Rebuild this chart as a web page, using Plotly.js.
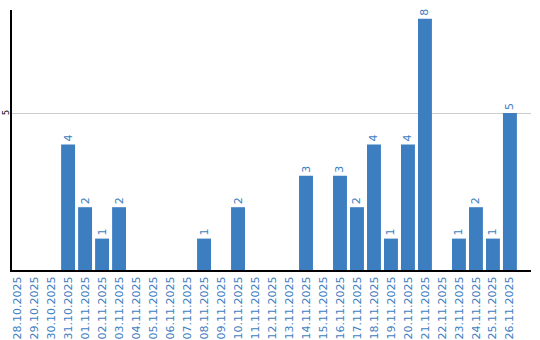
<!DOCTYPE html>
<html><head><meta charset="utf-8">
<script src="https://cdn.plot.ly/plotly-3.0.1.min.js"></script>
<style>html,body{margin:0;padding:0;background:#fff}#c{width:540px;height:340px}</style>
</head><body><div id="c"></div>
<script>
var dates = ["28.10.2025","29.10.2025","30.10.2025","31.10.2025","01.11.2025","02.11.2025","03.11.2025","04.11.2025","05.11.2025","06.11.2025","07.11.2025","08.11.2025","09.11.2025","10.11.2025","11.11.2025","12.11.2025","13.11.2025","14.11.2025","15.11.2025","16.11.2025","17.11.2025","18.11.2025","19.11.2025","20.11.2025","21.11.2025","22.11.2025","23.11.2025","24.11.2025","25.11.2025","26.11.2025"];
var counts = [0,0,0,4,2,1,2,0,0,0,0,1,0,2,0,0,0,3,0,3,2,4,1,4,8,0,1,2,1,5];
var yTicks = [5];

var labels = counts.map(function(v){ return v > 0 ? String(v) : ""; });

var yTickAnn = yTicks.map(function(t){
  return {
    xref: "paper", yref: "y", x: -6/519, y: t,
    text: String(t), showarrow: false, textangle: -90,
    xanchor: "center", yanchor: "middle", borderpad: 0,
    font: {size: 8, color: "#000", family: "DejaVu Sans, sans-serif"}
  };
});

Plotly.newPlot("c", [{
  type: "bar",
  x: dates,
  y: counts,
  text: labels,
  textposition: "outside",
  textangle: -90,
  cliponaxis: false,
  textfont: {family: "DejaVu Sans, sans-serif", size: 11, color: "#3d7ec1"},
  marker: {color: "#3d7ec1"},
  hoverinfo: "none"
}], {
  width: 540, height: 340,
  margin: {l: 12, r: 9, t: 10, b: 70},
  paper_bgcolor: "#fff", plot_bgcolor: "#fff",
  bargap: 0.18,
  showlegend: false,
  font: {family: "DejaVu Sans, sans-serif"},
  annotations: yTickAnn,
  xaxis: {
    type: "category",
    range: [-0.3, 30.24],
    tickangle: -90,
    tickfont: {size: 11, color: "#3d7ec1", family: "DejaVu Sans, sans-serif"},
    showline: true, linecolor: "#000", linewidth: 2,
    showgrid: false, ticks: "", fixedrange: true
  },
  yaxis: {
    range: [0, 8.28],
    tickvals: yTicks,
    showticklabels: false,
    showline: true, linecolor: "#000", linewidth: 2,
    showgrid: true, gridcolor: "#cccccc", gridwidth: 1,
    zeroline: false, ticks: "", fixedrange: true
  }
}, {displayModeBar: false, staticPlot: true});
</script></body></html>
